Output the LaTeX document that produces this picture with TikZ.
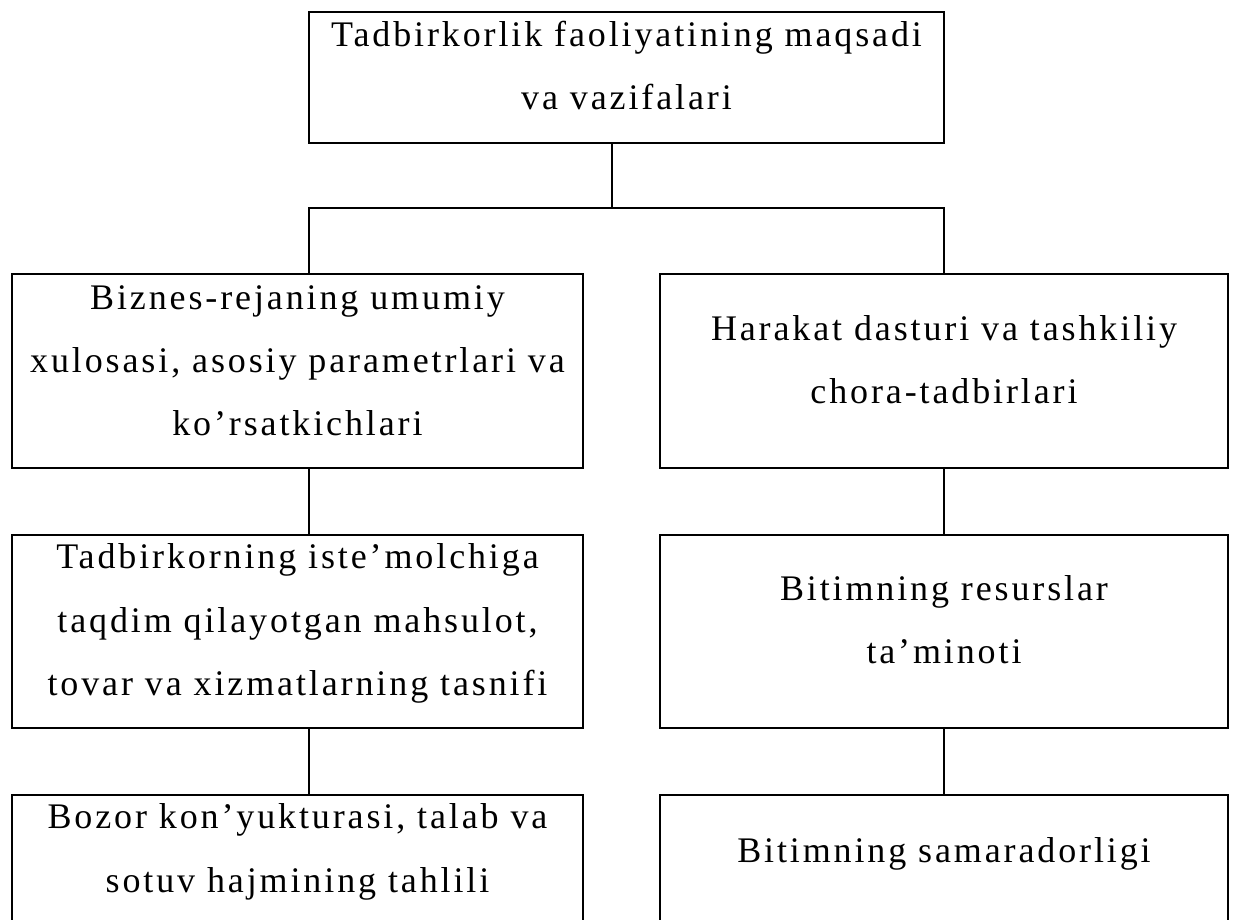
\documentclass[tikz,border=0pt]{standalone}
\usepackage{fontspec}
\setmainfont{Liberation Serif}[LetterSpace=8]
\begin{document}
\begin{tikzpicture}[x=1pt,y=1pt,
  box/.style={draw, line width=2.2pt, rectangle, inner sep=0pt},
  txt/.style={anchor=base, inner sep=0pt, font=\fontsize{36}{63}\selectfont},
  link/.style={line width=2.2pt}]
\useasboundingbox (0,0) rectangle (1242,919);
\clip (0,0) rectangle (1242,919);

% frames
\node[box, minimum width=635pt, minimum height=131pt] (top) at (626.5,841.5) {};
\node[box, minimum width=571pt, minimum height=194pt] (L1) at (297.5,548) {};
\node[box, minimum width=571pt, minimum height=193pt] (L2) at (297.5,287.5) {};
\node[box, minimum width=571pt, minimum height=127pt] (L3) at (297.5,60.5) {};
\node[box, minimum width=568pt, minimum height=194pt] (R1) at (944,548) {};
\node[box, minimum width=568pt, minimum height=193pt] (R2) at (944,287.5) {};
\node[box, minimum width=568pt, minimum height=127pt] (R3) at (944,60.5) {};

% text lines, placed on their baselines
\node[txt] (top-a) at (626.5,872) {Tadbirkorlik faoliyatining maqsadi};
\node[txt] (top-b) at (626.5,809) {va vazifalari};

\node[txt] (L1-a) at (297.5,609) {Biznes-rejaning umumiy};
\node[txt] (L1-b) at (297.5,546) {xulosasi, asosiy parametrlari va};
\node[txt] (L1-c) at (297.5,483) {ko’rsatkichlari};

\node[txt] (L2-a) at (297.5,350) {Tadbirkorning iste’molchiga};
\node[txt] (L2-b) at (297.5,287) {taqdim qilayotgan mahsulot,};
\node[txt] (L2-c) at (297.5,224) {tovar va xizmatlarning tasnifi};

\node[txt] (L3-a) at (297.5,91) {Bozor kon’yukturasi, talab va};
\node[txt] (L3-b) at (297.5,27) {sotuv hajmining tahlili};

\node[txt] (R1-a) at (944,578.5) {Harakat dasturi va tashkiliy};
\node[txt] (R1-b) at (944,515) {chora-tadbirlari};

\node[txt] (R2-a) at (944,318) {Bitimning resurslar};
\node[txt] (R2-b) at (944,255) {ta’minoti};

\node[txt] (R3-a) at (944,57) {Bitimning samaradorligi};

% branching points
\coordinate (hub) at (612,711);
\coordinate (lc) at (309,711);
\coordinate (rc) at (944,711);

\draw[link] (hub |- top.south) -- (hub);
\draw[link] (L1.north -| lc) -- (lc) -- (rc) -- (R1.north -| rc);
\draw[link] (L1.south -| lc) -- (L2.north -| lc);
\draw[link] (L2.south -| lc) -- (L3.north -| lc);
\draw[link] (R1.south -| rc) -- (R2.north -| rc);
\draw[link] (R2.south -| rc) -- (R3.north -| rc);
\end{tikzpicture}
\end{document}
